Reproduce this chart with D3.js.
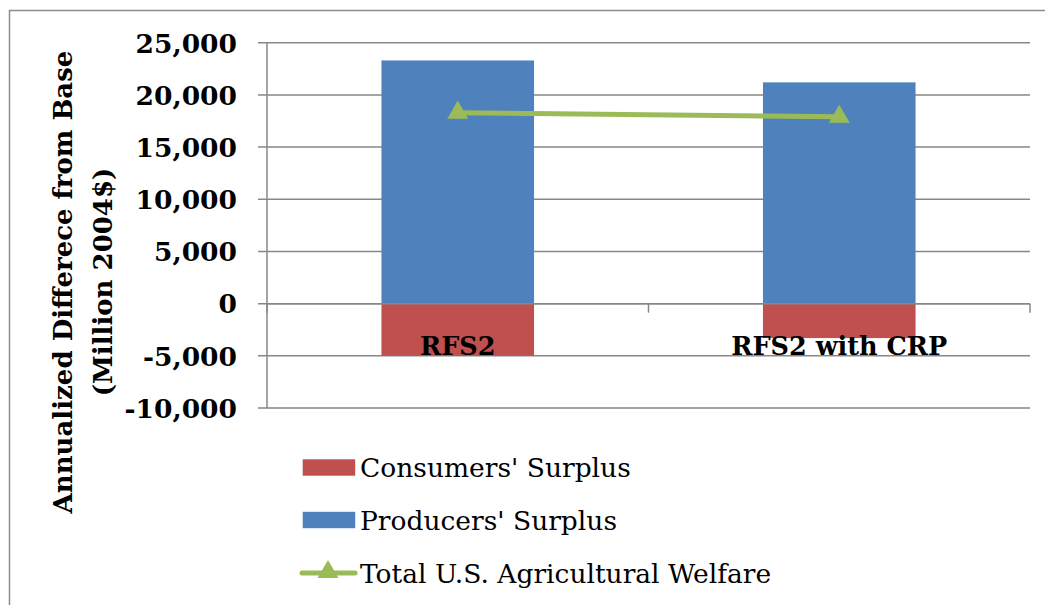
<!DOCTYPE html>
<html>
<head>
<meta charset="utf-8">
<script src="https://cdn.jsdelivr.net/npm/d3@7"></script>
<style>
  html, body { margin: 0; padding: 0; background: #fff; }
  svg { display: block; }
</style>
</head>
<body>
<script>
// ---- data ----
const categories = ["RFS2", "RFS2 with CRP"];
const consumersSurplus = [-5000, -3300];
const producersSurplus = [23300, 21200];
const totalWelfare = [18300, 17900];
const yTicks = [-10000, -5000, 0, 5000, 10000, 15000, 20000, 25000];
const seriesNames = ["Consumers' Surplus", "Producers' Surplus", "Total U.S. Agricultural Welfare"];
const yTitle = ["Annualized Differece from Base", "(Million 2004$)"];

// ---- layout ----
const W = 1045, H = 605;
const pLeft = 267, pRight = 1030, pTop = 42.7, pBottom = 408;
const colors = { cs: "#C0504D", ps: "#4F81BD", tw: "#9BBB59" };
const gridColor = "#878787";
const serif = "'DejaVu Serif', serif";

const svg = d3.select("body").append("svg").attr("width", W).attr("height", H);

// outer chart border
svg.append("rect").attr("x", 9.5).attr("y", 10.5).attr("width", 1100).attr("height", 700)
  .attr("fill", "none").attr("stroke", "#8c8c8c").attr("stroke-width", 1.5);

const x = d3.scaleBand().domain(categories).range([pLeft, pRight]).paddingInner(0.6).paddingOuter(0.3);
const y = d3.scaleLinear().domain([-10000, 25000]).range([pBottom, pTop]);

// gridlines
svg.append("g").selectAll("line").data(yTicks).join("line")
  .attr("x1", pLeft - 9).attr("x2", pRight)
  .attr("y1", d => y(d)).attr("y2", d => y(d))
  .attr("stroke", gridColor).attr("stroke-width", 1.5);

// y axis line
svg.append("line").attr("x1", pLeft).attr("x2", pLeft).attr("y1", pTop).attr("y2", pBottom)
  .attr("stroke", gridColor).attr("stroke-width", 1.5);

// y tick labels
const fmt = d3.formatLocale({ decimal: ".", thousands: ",", grouping: [3], currency: ["$", ""], minus: "-" }).format(",");
svg.append("g").selectAll("text").data(yTicks).join("text")
  .attr("x", 237).attr("y", d => y(d)).attr("dy", "0.37em")
  .attr("text-anchor", "end")
  .attr("font-family", serif).attr("font-weight", "bold").attr("font-size", 26.5)
  .attr("fill", "#000")
  .text(d => fmt(d));

// y title
const yt = svg.append("text")
  .attr("transform", "translate(0,282) rotate(-90)")
  .attr("text-anchor", "middle")
  .attr("font-family", serif).attr("font-weight", "bold").attr("font-size", 26)
  .attr("fill", "#000");
yt.append("tspan").attr("x", 0).attr("y", 72).text(yTitle[0]);
yt.append("tspan").attr("x", 0).attr("y", 112).text(yTitle[1]);

// bars
const bw = x.bandwidth();
svg.append("g").selectAll("rect").data(categories).join("rect")
  .attr("x", d => x(d)).attr("width", bw)
  .attr("y", (d, i) => y(producersSurplus[i]))
  .attr("height", (d, i) => y(0) - y(producersSurplus[i]))
  .attr("fill", colors.ps);
svg.append("g").selectAll("rect").data(categories).join("rect")
  .attr("x", d => x(d)).attr("width", bw)
  .attr("y", y(0))
  .attr("height", (d, i) => y(consumersSurplus[i]) - y(0))
  .attr("fill", colors.cs);

// zero line redraw (axis) + category ticks
svg.append("line").attr("x1", pLeft).attr("x2", pRight).attr("y1", y(0)).attr("y2", y(0))
  .attr("stroke", gridColor).attr("stroke-width", 1.5);
const catTicks = [pLeft, ...categories.slice(1).map(c => x(c) - x.step() * x.paddingInner() / 2), pRight];
svg.append("g").selectAll("line").data(catTicks).join("line")
  .attr("x1", d => d).attr("x2", d => d).attr("y1", y(0)).attr("y2", y(0) + 9)
  .attr("stroke", gridColor).attr("stroke-width", 1.5);

// category labels
svg.append("g").selectAll("text").data(categories).join("text")
  .attr("x", d => x(d) + bw / 2).attr("y", 355)
  .attr("text-anchor", "middle")
  .attr("font-family", serif).attr("font-weight", "bold").attr("font-size", 25.5)
  .attr("fill", "#000")
  .text(d => d);

// total welfare line
const pts = categories.map((c, i) => [x(c) + bw / 2, y(totalWelfare[i])]);
svg.append("path").attr("d", d3.line()(pts))
  .attr("fill", "none").attr("stroke", colors.tw).attr("stroke-width", 5);
const tri = d3.symbol().type(d3.symbolTriangle).size(190);
svg.append("g").selectAll("path").data(pts).join("path")
  .attr("transform", d => `translate(${d[0]},${d[1]})`)
  .attr("d", tri).attr("fill", colors.tw);

// legend
const lg = svg.append("g").attr("font-family", serif).attr("font-size", 26.5).attr("fill", "#000");
const legY = [467.5, 520, 573];
lg.append("rect").attr("x", 302.7).attr("y", legY[0] - 8.2).attr("width", 52.5).attr("height", 16.4).attr("fill", colors.cs);
lg.append("rect").attr("x", 302.7).attr("y", legY[1] - 8.2).attr("width", 52.5).attr("height", 16.4).attr("fill", colors.ps);
lg.append("line").attr("x1", 302).attr("x2", 355).attr("y1", legY[2]).attr("y2", legY[2])
  .attr("stroke", colors.tw).attr("stroke-width", 5).attr("stroke-linecap", "round");
lg.append("path").attr("transform", `translate(328,${legY[2] - 1})`).attr("d", tri).attr("fill", colors.tw);
lg.selectAll("text").data(seriesNames).join("text")
  .attr("x", 360).attr("y", (d, i) => legY[i] + 9.5)
  .text(d => d);
</script>
</body>
</html>
